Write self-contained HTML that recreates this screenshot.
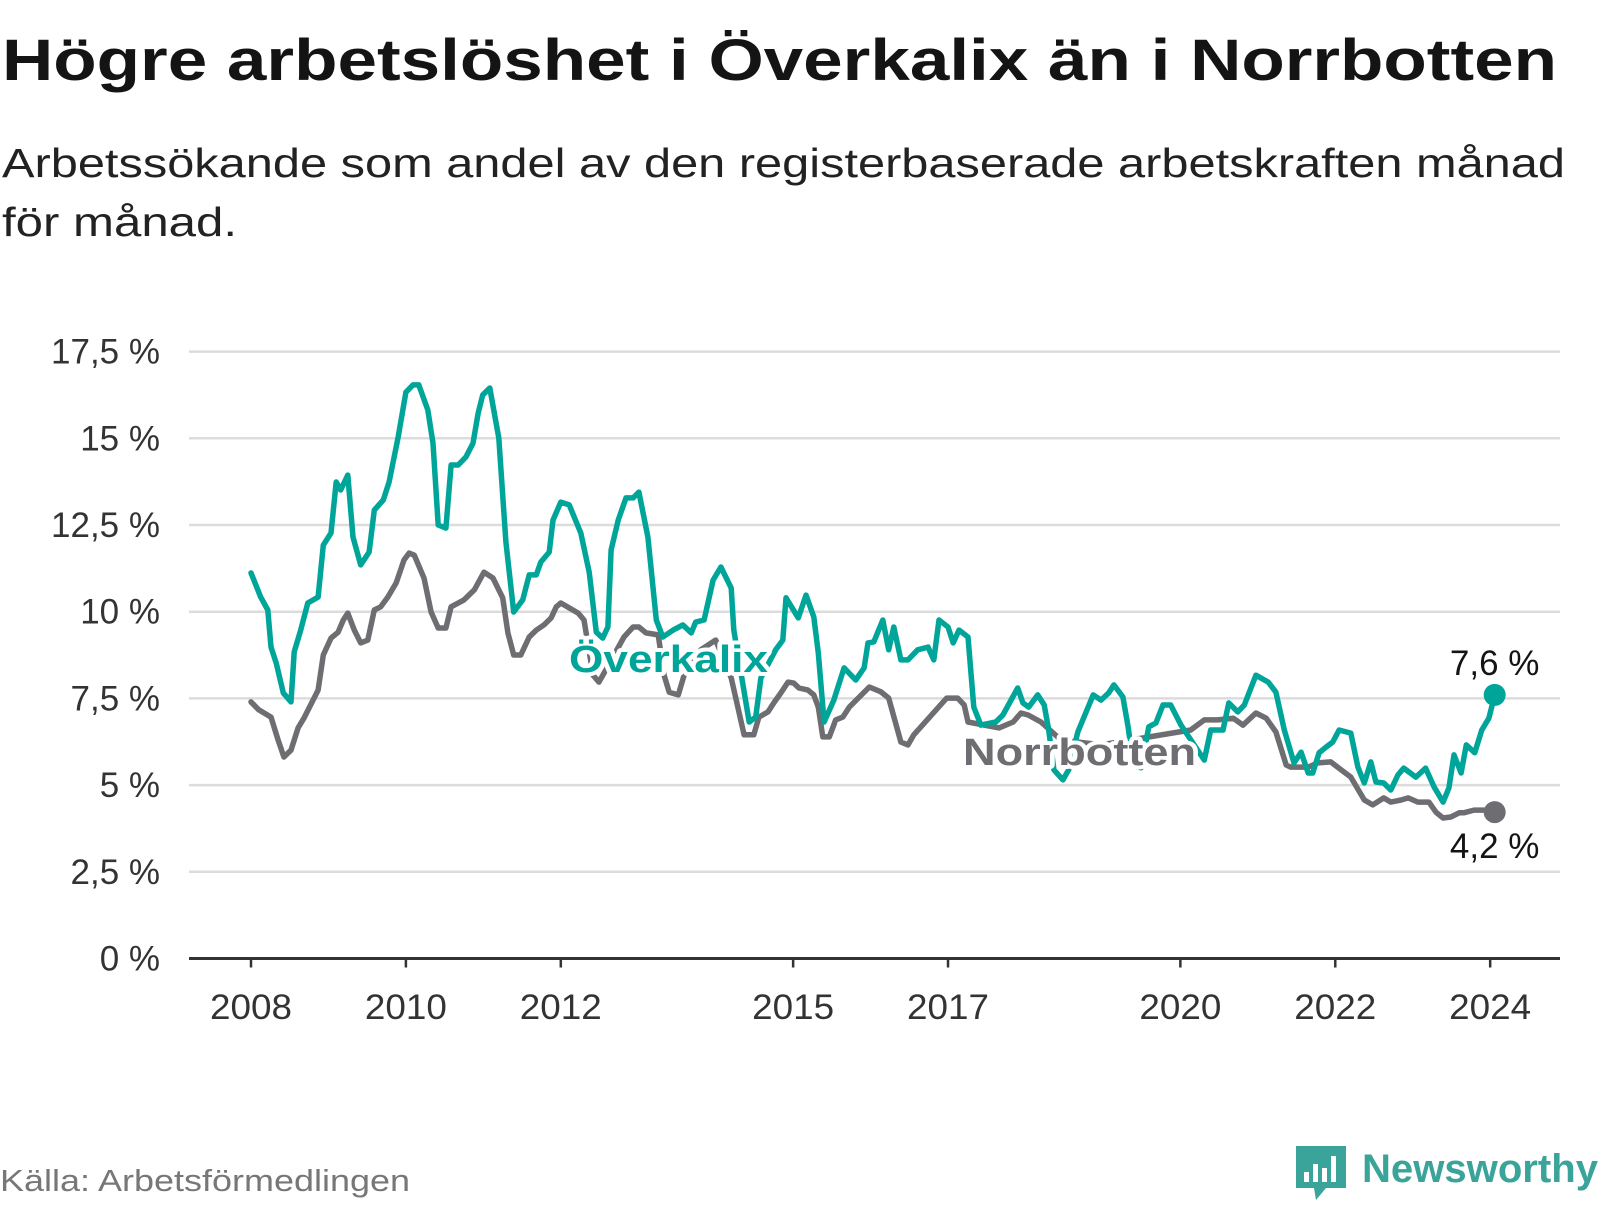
<!DOCTYPE html>
<html><head><meta charset="utf-8"><style>
html,body{margin:0;padding:0;background:#fff;}
svg text{font-family:"Liberation Sans",sans-serif;}
</style></head><body>
<svg id="chart" width="1600" height="1200" viewBox="0 0 1600 1200" xmlns="http://www.w3.org/2000/svg">
<text x="2" y="80" font-size="58" font-weight="bold" fill="#141414" textLength="1555" lengthAdjust="spacingAndGlyphs">Högre arbetslöshet i Överkalix än i Norrbotten</text>
<text x="2" y="177" font-size="41" fill="#222" textLength="1563" lengthAdjust="spacingAndGlyphs">Arbetssökande som andel av den registerbaserade arbetskraften månad</text>
<text x="2" y="236" font-size="41" fill="#222" textLength="235" lengthAdjust="spacingAndGlyphs">för månad.</text>
<g id="grid"></g>
<g id="series"></g>
<g id="labels"></g>
<text x="0" y="1191" font-size="31" fill="#777" textLength="410" lengthAdjust="spacingAndGlyphs">Källa: Arbetsförmedlingen</text>
<g>
<path d="M1296 1146 h50 v42 h-20 l-10 12 l-2 -12 h-18 z" fill="#3aa39a"/>
<rect x="1304" y="1172" width="5" height="10" fill="#fff"/>
<rect x="1313" y="1164" width="5" height="18" fill="#fff"/>
<rect x="1322" y="1168" width="5" height="14" fill="#fff"/>
<rect x="1331" y="1156" width="5" height="26" fill="#fff"/>
<text x="1362" y="1182" font-size="40" font-weight="bold" fill="#3aa39a" textLength="236" lengthAdjust="spacingAndGlyphs">Newsworthy</text>
</g>
</svg>
<script>
const yTicks = [0, 2.5, 5, 7.5, 10, 12.5, 15, 17.5];
const yTickLabels = ["0 %", "2,5 %", "5 %", "7,5 %", "10 %", "12,5 %", "15 %", "17,5 %"];
const xTickYears = [2008, 2010, 2012, 2015, 2017, 2020, 2022, 2024];
const overkalixMonths = [0,1.5,2.6,3.1,3.9,5.0,6.2,6.7,7.7,8.8,10.4,11.2,12.4,13.2,13.9,15.0,15.8,17.0,18.3,19.1,20.5,21.4,22.8,24.0,25.1,26.0,27.4,28.2,29.0,30.2,31.0,32.1,33.3,34.4,35.2,35.9,37.0,38.4,39.5,40.7,42.1,43.1,44.2,44.9,46.2,46.8,48.0,49.3,51.1,52.4,53.5,54.5,55.3,55.8,56.9,58.1,59.2,60.1,61.5,62.8,63.8,65.4,66.9,68.2,68.9,70.2,71.6,72.8,74.4,74.8,77.2,78.2,79.0,81.3,82.4,82.9,84.8,86.0,87.2,87.9,88.8,90.3,91.9,93.7,95.0,95.6,96.5,97.9,98.8,99.6,100.7,101.8,103.3,104.9,105.8,106.6,108.0,108.8,109.7,111.1,112.0,113.1,115.4,116.5,118.8,119.6,120.5,121.9,122.9,123.6,124.4,125.8,126.7,128.1,130.5,131.7,132.9,133.7,135.1,135.9,136.7,137.9,139.1,140.2,141.3,142.5,144.1,147.7,148.7,150.6,151.5,152.9,153.9,155.7,157.6,158.8,160.1,161.6,162.7,163.8,164.5,165.5,166.6,167.6,168.6,170.4,171.5,172.5,173.5,174.3,175.5,176.6,177.7,178.6,180.5,182.0,183.3,184.7,185.6,186.4,187.5,188.3,189.6,190.7,191.8,192.7];
const overkalixValues = [11.12,10.42,10.05,8.98,8.52,7.66,7.40,8.84,9.47,10.25,10.42,11.92,12.27,13.74,13.51,13.94,12.15,11.35,11.72,12.93,13.22,13.74,15.04,16.33,16.54,16.54,15.82,14.86,12.50,12.41,14.23,14.23,14.46,14.86,15.73,16.25,16.45,15.01,12.01,9.99,10.34,11.06,11.06,11.43,11.72,12.64,13.16,13.08,12.27,11.14,9.41,9.24,9.56,11.78,12.64,13.28,13.28,13.45,12.15,9.76,9.27,9.47,9.62,9.39,9.70,9.76,10.91,11.29,10.68,9.47,6.82,6.96,8.09,8.90,9.18,10.40,9.82,10.48,9.85,8.81,6.82,7.45,8.38,8.03,8.38,9.10,9.13,9.76,8.90,9.56,8.61,8.61,8.90,8.98,8.61,9.76,9.56,9.10,9.47,9.27,7.25,6.73,6.82,7.02,7.80,7.37,7.25,7.60,7.31,6.59,5.44,5.15,5.44,6.53,7.60,7.45,7.66,7.89,7.54,6.68,5.58,5.50,6.68,6.79,7.31,7.31,6.73,5.72,6.59,6.59,7.37,7.11,7.31,8.17,7.97,7.68,6.59,5.64,5.95,5.35,5.35,5.93,6.10,6.24,6.59,6.50,5.52,5.06,5.67,5.09,5.06,4.86,5.29,5.49,5.23,5.49,4.95,4.51,4.92,5.87,5.35,6.16,5.93,6.59,6.93,7.60];
const norrbottenMonths = [0,1.2,3.1,4.2,5.1,6.2,7.3,8.2,10.4,11.2,12.4,13.5,14.3,15.0,16.0,17.0,18.1,19.1,20.1,21.2,22.5,23.7,24.5,25.3,26.8,27.9,29.0,30.2,31.0,33.0,34.6,36.1,37.5,39.0,39.8,40.7,41.8,43.1,44.2,45.4,46.5,47.3,48.0,49.3,50.7,51.6,53.0,53.9,54.7,57.8,59.2,60.1,61.2,63.1,64.0,64.8,66.2,67.1,69.7,72.0,74.4,76.4,77.9,78.7,80.1,81.0,82.1,83.2,84.1,84.9,86.3,87.2,87.9,88.6,89.6,90.6,91.7,92.7,94.1,95.8,97.6,98.8,100.7,101.8,102.7,107.8,109.5,110.5,111.1,115.9,118.1,119.3,120.4,122.4,125.5,131.7,136.3,145.6,147.7,149.8,152.2,153.7,155.7,157.3,158.8,160.4,161.1,163.8,165.3,167.3,168.9,170.4,172.5,173.8,175.5,176.6,178.2,179.3,180.8,182.5,183.6,184.7,185.9,187.2,187.9,189.5,191.0,192.7];
const norrbottenValues = [7.40,7.17,6.96,6.30,5.81,6.01,6.65,6.93,7.74,8.75,9.24,9.41,9.76,9.96,9.47,9.10,9.18,10.05,10.14,10.42,10.83,11.49,11.69,11.63,10.97,9.99,9.53,9.53,10.14,10.34,10.63,11.14,10.97,10.40,9.39,8.75,8.75,9.27,9.47,9.62,9.82,10.14,10.25,10.11,9.96,9.76,8.17,7.97,8.23,9.27,9.56,9.56,9.39,9.33,8.17,7.68,7.60,8.17,8.90,9.18,8.09,6.45,6.45,6.96,7.11,7.37,7.66,7.97,7.94,7.80,7.74,7.60,7.25,6.39,6.39,6.88,6.96,7.25,7.51,7.83,7.69,7.51,6.24,6.16,6.45,7.51,7.51,7.31,6.82,6.65,6.82,7.08,7.02,6.82,6.30,6.16,6.30,6.59,6.88,6.88,6.93,6.73,7.08,6.93,6.53,5.58,5.52,5.52,5.64,5.67,5.44,5.23,4.57,4.43,4.63,4.51,4.57,4.63,4.51,4.51,4.22,4.05,4.08,4.20,4.20,4.28,4.28,4.22];

const NS = "http://www.w3.org/2000/svg";
const X0 = 251, PXM = 6.454, Y0 = 958.5, PXV = 34.68, LEFT = 189, RIGHT = 1560;
function xScale(m){ return X0 + m * PXM; }
function yScale(v){ return Y0 - v * PXV; }
function mk(tag, attrs, parent){ const e = document.createElementNS(NS, tag); for (const k in attrs) e.setAttribute(k, attrs[k]); parent.appendChild(e); return e; }

const grid = document.getElementById('grid');
yTicks.forEach((v, i) => {
  if (v > 0) {
    const l = mk('line', {x1: LEFT, x2: RIGHT, y1: yScale(v), y2: yScale(v), stroke: '#dcdcdc', 'stroke-width': 2.5}, grid);
    
    
  }
  const t = mk('text', {x: 160, y: yScale(v) + 12, 'text-anchor': 'end', 'font-size': 35, fill: '#333'}, grid);
  t.textContent = yTickLabels[i];
  
  
});
const ax = mk('line', {x1: LEFT, x2: RIGHT, y1: Y0, y2: Y0, stroke: '#333', 'stroke-width': 3}, grid);


xTickYears.forEach(yr => {
  const x = xScale((yr - 2008) * 12);
  const tk = mk('line', {x1: x, x2: x, y1: Y0, y2: Y0 + 9, stroke: '#333', 'stroke-width': 2.5}, grid);
  
  
  const t = mk('text', {x: x - 41, y: 1019, 'font-size': 35, fill: '#333', textLength: 82, lengthAdjust: 'spacingAndGlyphs'}, grid);
  t.textContent = yr;
  
  
});

const series = document.getElementById('series');
function drawLine(ms, vs, color, name){
  const d = ms.map((m, i) => (i ? 'L' : 'M') + xScale(m).toFixed(1) + ' ' + yScale(vs[i]).toFixed(1)).join(' ');
  const p = mk('path', {d: d, fill: 'none', stroke: color, 'stroke-width': 5.5, 'stroke-linejoin': 'round', 'stroke-linecap': 'round'}, series);
  
  
  const n = ms.length - 1;
  const c = mk('circle', {cx: xScale(ms[n]), cy: yScale(vs[n]), r: 11, fill: color}, series);
  
  
}
drawLine(norrbottenMonths, norrbottenValues, '#6e6d72', 'norrbotten');
drawLine(overkalixMonths, overkalixValues, '#00a59a', 'overkalix');

const labels = document.getElementById('labels');
function lbl(txt, x, y, color, name, opts){
  const t = mk('text', Object.assign({x: x, y: y, fill: color, stroke: '#fff', 'stroke-width': 8, 'paint-order': 'stroke', 'stroke-linejoin': 'round'}, opts), labels);
  t.textContent = txt;
  
  
}
lbl('Överkalix', 569, 672, '#00a59a', 'overkalix-series-label', {'font-size': 38, 'font-weight': 'bold', textLength: 199, lengthAdjust: 'spacingAndGlyphs'});
lbl('Norrbotten', 963, 765, '#6e6d72', 'norrbotten-series-label', {'font-size': 38, 'font-weight': 'bold', textLength: 233, lengthAdjust: 'spacingAndGlyphs'});
const no = overkalixMonths.length - 1, nn = norrbottenMonths.length - 1;
lbl(String(overkalixValues[no].toFixed(1)).replace('.', ',') + ' %', xScale(overkalixMonths[no]), yScale(overkalixValues[no]) - 20, '#141414', 'overkalix-end-value', {'font-size': 35, 'text-anchor': 'middle', 'stroke-width': 0});
lbl(String(norrbottenValues[nn].toFixed(1)).replace('.', ',') + ' %', xScale(norrbottenMonths[nn]), yScale(norrbottenValues[nn]) + 46, '#141414', 'norrbotten-end-value', {'font-size': 35, 'text-anchor': 'middle', 'stroke-width': 0});
</script>
</body></html>
